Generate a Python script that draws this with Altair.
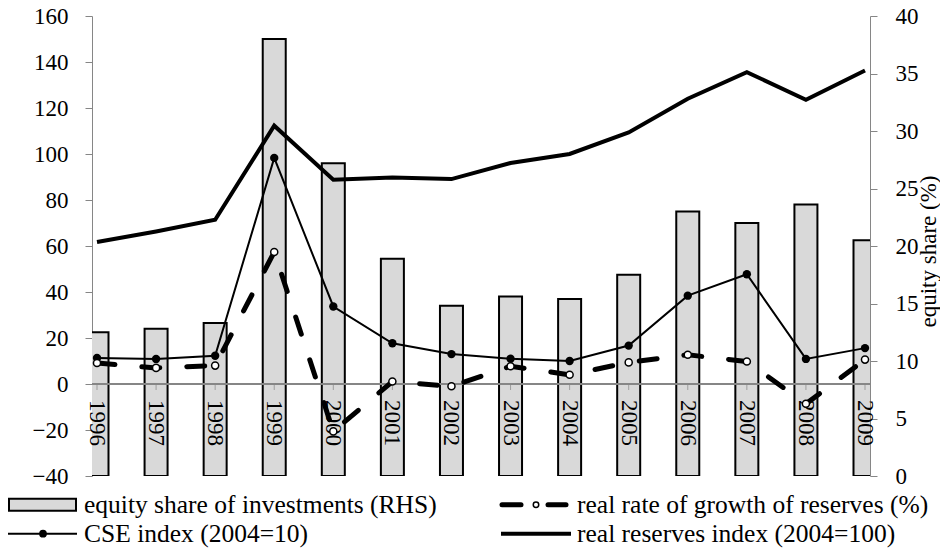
import altair as alt
import pandas as pd

# ---- data ----
years = list(range(1996, 2010))
year_labels = [str(y) for y in years]
equity_share = [12.5, 12.8, 13.3, 38.0, 27.2, 18.9, 14.8, 15.6, 15.4, 17.5, 23.0, 22.0, 23.6, 20.5]
reserves_index = [61.7, 66.3, 71.4, 112.3, 88.8, 89.8, 89.1, 96.1, 100.0, 109.4, 124.0, 135.6, 123.6, 136.3]
cse_index = [11.3, 10.9, 12.3, 98.3, 33.7, 17.7, 13.0, 11.0, 10.0, 16.7, 38.4, 47.7, 10.9, 15.6]
real_growth = [9.1, 7.0, 8.0, 57.4, -20.6, 1.1, -1.0, 7.7, 4.0, 9.4, 12.7, 9.8, -8.6, 10.6]
left_ticks = list(range(-40, 161, 20))
right_ticks = list(range(0, 41, 5))
legend_labels = [
    "equity share of investments (RHS)",
    "real rate of growth of reserves (%)",
    "CSE index (2004=10)",
    "real reserves index (2004=100)",
]
right_title = "equity share (%)"

df = pd.DataFrame({
    "year": years,
    "label": year_labels,
    "equity": equity_share,
    "reserves": reserves_index,
    "cse": cse_index,
    "growth": real_growth,
})

FONT = "Liberation Serif"
FS = 23
LFS = 25.5
W, H = 778, 460
GRAY = "#868686"

xs = alt.Scale(domain=[1996, 2009], nice=False, zero=False)
ly = alt.Scale(domain=[-40, 160], nice=False)
ry = alt.Scale(domain=[0, 40], nice=False)
X = alt.X("year:Q", scale=xs, axis=None)

left_axis = alt.Axis(orient="left", values=left_ticks, title=None, tickSize=7,
                     labelPadding=17, grid=False)
right_axis = alt.Axis(orient="right", values=right_ticks, title=right_title,
                      tickSize=7, labelPadding=18, grid=False,
                      titleAngle=270, titleX=58, titleY=235,
                      titleAlign="center", titleBaseline="middle")

base = alt.Chart(df)

bars = base.mark_bar(size=23, fill="#d9d9d9", stroke="black", strokeWidth=2,
                     clip=True).encode(
    x=X, y=alt.Y("equity:Q", scale=ry, axis=right_axis))

zero = base.mark_rule(color=GRAY, strokeWidth=1.5).encode(
    y=alt.Y(datum=0, scale=ly, axis=left_axis))
ticks = base.mark_tick(orient="vertical", size=6, thickness=1, color=GRAY,
                       yOffset=3).encode(
    x=X, y=alt.Y(datum=0, scale=ly, axis=left_axis))
labels = base.mark_text(angle=90, align="left", baseline="middle", dx=16,
                        font=FONT, fontSize=FS, color="black").encode(
    x=X, y=alt.Y(datum=0, scale=ly, axis=left_axis), text="label:N")

reserves = base.mark_line(color="black", strokeWidth=4).encode(
    x=X, y=alt.Y("reserves:Q", scale=ly, axis=left_axis))
growth = base.mark_line(color="black", strokeWidth=5, strokeDash=[18, 27],
                        strokeCap="round").encode(
    x=X, y=alt.Y("growth:Q", scale=ly, axis=left_axis))
cse = base.mark_line(color="black", strokeWidth=2).encode(
    x=X, y=alt.Y("cse:Q", scale=ly, axis=left_axis))
cse_pts = base.mark_circle(size=70, color="black", opacity=1).encode(
    x=X, y=alt.Y("cse:Q", scale=ly, axis=left_axis))
growth_pts = base.mark_point(shape="circle", filled=True, fill="white",
                             stroke="black", strokeWidth=1.5, size=50,
                             opacity=1).encode(
    x=X, y=alt.Y("growth:Q", scale=ly, axis=left_axis))

left_group = alt.layer(zero, ticks, labels, reserves, growth, cse, cse_pts, growth_pts)

# ---- legend (drawn below the plot) ----
one = pd.DataFrame({"k": [0]})
leg = alt.Chart(one)
r1, r2 = 488.7, 517.7
txt = dict(align="left", baseline="middle", font=FONT, fontSize=LFS, color="black")
legend_layers = [
    leg.mark_rect(fill="#d9d9d9", stroke="black", strokeWidth=2).encode(
        x=alt.value(-83), x2=alt.value(-16), y=alt.value(r1 - 6), y2=alt.value(r1 + 6)),
    leg.mark_text(**txt).encode(
        x=alt.value(-8), y=alt.value(r1), text=alt.value(legend_labels[0])),
    leg.mark_rule(color="black", strokeWidth=5, strokeCap="round").encode(
        x=alt.value(410), x2=alt.value(429), y=alt.value(r1)),
    leg.mark_rule(color="black", strokeWidth=5, strokeCap="round").encode(
        x=alt.value(456), x2=alt.value(474), y=alt.value(r1)),
    leg.mark_point(shape="circle", filled=True, fill="white", stroke="black",
                   strokeWidth=1.5, size=30, opacity=1).encode(
        x=alt.value(444), y=alt.value(r1)),
    leg.mark_text(**txt).encode(
        x=alt.value(485), y=alt.value(r1), text=alt.value(legend_labels[1])),
    leg.mark_rule(color="black", strokeWidth=2).encode(
        x=alt.value(-84), x2=alt.value(-15), y=alt.value(r2)),
    leg.mark_circle(size=60, color="black", opacity=1).encode(
        x=alt.value(-49), y=alt.value(r2)),
    leg.mark_text(**txt).encode(
        x=alt.value(-8), y=alt.value(r2), text=alt.value(legend_labels[2])),
    leg.mark_rule(color="black", strokeWidth=4).encode(
        x=alt.value(409), x2=alt.value(479), y=alt.value(r2)),
    leg.mark_text(**txt).encode(
        x=alt.value(485), y=alt.value(r2), text=alt.value(legend_labels[3])),
]

chart = alt.layer(bars, left_group, *legend_layers).resolve_scale(
    y="independent"
).properties(
    width=W, height=H,
    autosize=alt.AutoSizeParams(type="none"),
    padding={"left": 84, "top": 8, "right": 70, "bottom": 72},
    background="white",
).configure_view(stroke=None).configure_axis(
    labelFont=FONT, labelFontSize=FS, labelColor="black",
    titleFont=FONT, titleFontSize=FS, titleColor="black", titleFontWeight="normal",
    domainColor=GRAY, tickColor=GRAY, domainWidth=1, tickWidth=1,
)

chart.save("out.html", embed_options={"renderer": "svg", "actions": False})
